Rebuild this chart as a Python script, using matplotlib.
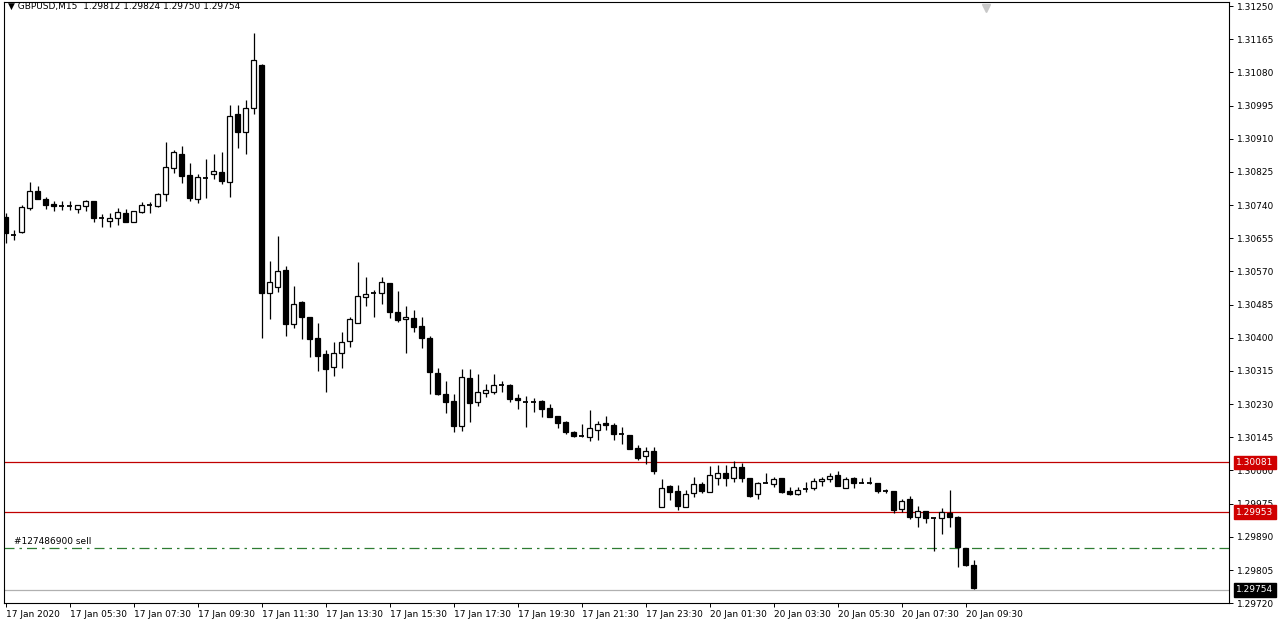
import matplotlib
matplotlib.use("Agg")
import matplotlib.pyplot as plt
from matplotlib.patches import Rectangle

# GBPUSD M15 candles, 17 Jan 03:30 .. 20 Jan 09:45
opens = [1.30709, 1.30663, 1.30671, 1.30732, 1.30776, 1.30755, 1.30742, 1.30737, 1.30737, 1.30730,
         1.30737, 1.30750, 1.30707, 1.30699, 1.30707, 1.30720, 1.30696, 1.30722, 1.30740, 1.30737,
         1.30768, 1.30835, 1.30871, 1.30817, 1.30755, 1.30809, 1.30819, 1.30825, 1.30799, 1.30973,
         1.30927, 1.30989, 1.31099, 1.30514, 1.30530, 1.30573, 1.30435, 1.30491, 1.30453, 1.30399,
         1.30358, 1.30325, 1.30361, 1.30391, 1.30438, 1.30504, 1.30514, 1.30514, 1.30540, 1.30466,
         1.30448, 1.30450, 1.30430, 1.30399, 1.30309, 1.30256, 1.30238, 1.30174, 1.30297, 1.30235,
         1.30258, 1.30261, 1.30279, 1.30279, 1.30245, 1.30235, 1.30235, 1.30238, 1.30220, 1.30199,
         1.30184, 1.30158, 1.30148, 1.30145, 1.30163, 1.30181, 1.30176, 1.30153, 1.30150, 1.30117,
         1.30097, 1.30110, 1.29966, 1.30020, 1.30007, 1.29966, 1.30002, 1.30025, 1.30004, 1.30040,
         1.30053, 1.30040, 1.30069, 1.30040, 1.29999, 1.30027, 1.30025, 1.30040, 1.30007, 1.29999,
         1.30012, 1.30015, 1.30033, 1.30038, 1.30048, 1.30015, 1.30040, 1.30027, 1.30027, 1.30027,
         1.30007, 1.30007, 1.29961, 1.29986, 1.29940, 1.29956, 1.29938, 1.29938, 1.29951, 1.29940,
         1.29861, 1.29817]
highs = [1.30720, 1.30676, 1.30740, 1.30799, 1.30789, 1.30760, 1.30750, 1.30750, 1.30750, 1.30740,
         1.30753, 1.30750, 1.30717, 1.30720, 1.30732, 1.30730, 1.30725, 1.30748, 1.30748, 1.30771,
         1.30901, 1.30881, 1.30891, 1.30848, 1.30819, 1.30858, 1.30871, 1.30876, 1.30996, 1.30996,
         1.31009, 1.31181, 1.31101, 1.30596, 1.30661, 1.30584, 1.30532, 1.30494, 1.30453, 1.30438,
         1.30368, 1.30389, 1.30415, 1.30453, 1.30594, 1.30555, 1.30522, 1.30555, 1.30540, 1.30520,
         1.30481, 1.30471, 1.30453, 1.30404, 1.30322, 1.30289, 1.30256, 1.30320, 1.30320, 1.30307,
         1.30281, 1.30307, 1.30289, 1.30281, 1.30256, 1.30250, 1.30245, 1.30240, 1.30230, 1.30199,
         1.30186, 1.30161, 1.30179, 1.30215, 1.30186, 1.30199, 1.30181, 1.30171, 1.30150, 1.30125,
         1.30120, 1.30120, 1.30038, 1.30022, 1.30022, 1.30010, 1.30043, 1.30030, 1.30071, 1.30074,
         1.30074, 1.30084, 1.30079, 1.30040, 1.30030, 1.30053, 1.30043, 1.30040, 1.30017, 1.30017,
         1.30030, 1.30040, 1.30043, 1.30053, 1.30058, 1.30043, 1.30043, 1.30040, 1.30043, 1.30027,
         1.30012, 1.30007, 1.29986, 1.29994, 1.29968, 1.29956, 1.29938, 1.29963, 1.30010, 1.29943,
         1.29861, 1.29830]
lows = [1.30643, 1.30650, 1.30668, 1.30727, 1.30755, 1.30730, 1.30725, 1.30727, 1.30727, 1.30720,
        1.30725, 1.30696, 1.30684, 1.30684, 1.30689, 1.30696, 1.30696, 1.30720, 1.30720, 1.30735,
        1.30750, 1.30822, 1.30796, 1.30750, 1.30745, 1.30758, 1.30807, 1.30794, 1.30760, 1.30886,
        1.30871, 1.30973, 1.30399, 1.30448, 1.30517, 1.30404, 1.30425, 1.30397, 1.30350, 1.30315,
        1.30261, 1.30302, 1.30322, 1.30376, 1.30438, 1.30481, 1.30453, 1.30486, 1.30450, 1.30440,
        1.30361, 1.30415, 1.30374, 1.30256, 1.30253, 1.30207, 1.30158, 1.30161, 1.30184, 1.30225,
        1.30248, 1.30256, 1.30261, 1.30235, 1.30217, 1.30171, 1.30209, 1.30197, 1.30197, 1.30168,
        1.30153, 1.30145, 1.30145, 1.30135, 1.30138, 1.30163, 1.30138, 1.30127, 1.30115, 1.30086,
        1.30076, 1.30050, 1.29966, 1.29984, 1.29958, 1.29966, 1.29992, 1.30002, 1.30004, 1.30022,
        1.30020, 1.30030, 1.30030, 1.29992, 1.29986, 1.30027, 1.30017, 1.30002, 1.29997, 1.29997,
        1.30004, 1.30010, 1.30020, 1.30030, 1.30020, 1.30015, 1.30015, 1.30027, 1.30025, 1.30002,
        1.30002, 1.29951, 1.29953, 1.29935, 1.29915, 1.29925, 1.29853, 1.29897, 1.29915, 1.29812,
        1.29815, 1.29756]
closes = [1.30668, 1.30663, 1.30735, 1.30776, 1.30755, 1.30740, 1.30737, 1.30737, 1.30737, 1.30740,
          1.30750, 1.30707, 1.30707, 1.30707, 1.30722, 1.30696, 1.30725, 1.30740, 1.30740, 1.30768,
          1.30837, 1.30876, 1.30814, 1.30758, 1.30812, 1.30809, 1.30827, 1.30801, 1.30968, 1.30927,
          1.30989, 1.31112, 1.30514, 1.30543, 1.30571, 1.30435, 1.30486, 1.30453, 1.30397, 1.30353,
          1.30320, 1.30361, 1.30389, 1.30448, 1.30507, 1.30512, 1.30514, 1.30543, 1.30466, 1.30445,
          1.30453, 1.30427, 1.30399, 1.30312, 1.30256, 1.30235, 1.30174, 1.30299, 1.30233, 1.30261,
          1.30266, 1.30279, 1.30279, 1.30243, 1.30240, 1.30235, 1.30235, 1.30217, 1.30197, 1.30181,
          1.30158, 1.30148, 1.30148, 1.30168, 1.30179, 1.30176, 1.30153, 1.30153, 1.30115, 1.30092,
          1.30110, 1.30058, 1.30015, 1.30004, 1.29968, 1.29999, 1.30025, 1.30007, 1.30048, 1.30053,
          1.30040, 1.30069, 1.30040, 1.29994, 1.30027, 1.30027, 1.30038, 1.30004, 1.29999, 1.30010,
          1.30012, 1.30033, 1.30038, 1.30045, 1.30020, 1.30038, 1.30027, 1.30027, 1.30027, 1.30007,
          1.30007, 1.29958, 1.29981, 1.29940, 1.29956, 1.29938, 1.29938, 1.29953, 1.29940, 1.29863,
          1.29817, 1.29758]

price_ticks = [1.31250, 1.31165, 1.31080, 1.30995, 1.30910, 1.30825, 1.30740, 1.30655, 1.30570,
               1.30485, 1.30400, 1.30315, 1.30230, 1.30145, 1.30060, 1.29975, 1.29890, 1.29805, 1.29720]
time_labels = ["17 Jan 2020", "17 Jan 05:30", "17 Jan 07:30", "17 Jan 09:30", "17 Jan 11:30",
               "17 Jan 13:30", "17 Jan 15:30", "17 Jan 17:30", "17 Jan 19:30", "17 Jan 21:30",
               "17 Jan 23:30", "20 Jan 01:30", "20 Jan 03:30", "20 Jan 05:30", "20 Jan 07:30",
               "20 Jan 09:30"]
time_label_pos = [0, 8, 16, 24, 32, 40, 48, 56, 64, 72, 80, 88, 96, 104, 112, 120]

level_high = 1.30081
level_low = 1.29953
order_price = 1.29862
last_price = 1.29754

fig = plt.figure(figsize=(12.8, 6.27), dpi=100)
ax = fig.add_axes([0.003, 0.038, 0.957, 0.9585])
ax.set_xlim(-0.25, 152.9)
ax.set_ylim(1.29720, 1.31260)

lw = 0.9
bw = 0.62
for i, (o, h, l, c) in enumerate(zip(opens, highs, lows, closes)):
    top = max(o, c)
    bot = min(o, c)
    ax.vlines(i, top, h, color="black", lw=lw, zorder=3)
    ax.vlines(i, l, bot, color="black", lw=lw, zorder=3)
    if abs(o - c) < 0.000025:
        ax.hlines(o, i - bw / 2, i + bw / 2, color="black", lw=1.3, zorder=3)
    else:
        face = "black" if c < o else "white"
        ax.add_patch(Rectangle((i - bw / 2, bot), bw, top - bot, facecolor=face,
                               edgecolor="black", lw=lw, zorder=4))

ax.axhline(level_high, color="#c00000", lw=0.9, zorder=2)
ax.axhline(level_low, color="#c00000", lw=0.9, zorder=2)
ax.axhline(order_price, color="#2e7d32", lw=0.9, ls=(0, (8, 4, 2, 4)), zorder=2)
ax.axhline(last_price, color="#b0b0b0", lw=0.9, zorder=2)
ax.text(1, order_price + 0.00005, "#127486900 sell", fontsize=6.5, va="bottom", ha="left")

ax.text(0.3, 1.31250, "\u25bc GBPUSD,M15  1.29812 1.29824 1.29750 1.29754", fontsize=6.5,
        va="center", ha="left", family=["DejaVu Sans"])
ax.plot([122.6], [1.31245], marker="v", color="#c8c8c8", ms=6, clip_on=False)

ax.yaxis.tick_right()
ax.set_yticks(price_ticks)
ax.set_yticklabels([f"{p:.5f}" for p in price_ticks], fontsize=6.5)
ax.tick_params(axis="y", length=3, width=0.7, pad=3)
ax.set_xticks(time_label_pos)
ax.set_xticklabels(time_labels, fontsize=6.5, ha="left")
ax.tick_params(axis="x", length=3, width=0.7, pad=2)
for lab in ax.get_xticklabels():
    lab.set_x(lab.get_position()[0])

for p, fc in [(level_high, "#d00000"), (level_low, "#d00000"), (last_price, "black")]:
    ax.text(1.006, p, f"{p:.5f}", transform=ax.get_yaxis_transform(), fontsize=6.5,
            color="white", va="center", ha="left",
            bbox=dict(boxstyle="square,pad=0.25", fc=fc, ec=fc), zorder=10, clip_on=False)

for s in ax.spines.values():
    s.set_linewidth(0.8)

fig.savefig("out.png", dpi=100, facecolor="white")
